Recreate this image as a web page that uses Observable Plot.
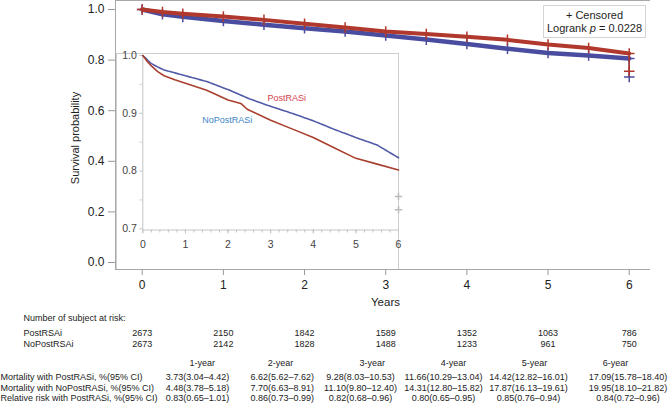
<!DOCTYPE html>
<html><head><meta charset="utf-8">
<script src="https://cdn.jsdelivr.net/npm/d3@7"></script>
<script src="https://cdn.jsdelivr.net/npm/@observablehq/plot@0.6"></script>
<style>
body{margin:0;background:#fff;font-family:"Liberation Sans",Arial,Helvetica,sans-serif;}
#wrap{position:relative;width:668px;height:404px;overflow:hidden;background:#fff;}
#main{position:absolute;left:0;top:0;}
#inset{position:absolute;left:116px;top:53px;border-top:1px solid #cfcfcf;border-right:1px solid #cfcfcf;border-left:1px solid #cfcfcf;background:#fff;}
#legend{position:absolute;left:543px;top:5px;width:103px;height:33px;box-sizing:border-box;border:1px solid #d4d4d4;background:#fff;text-align:center;font-size:11px;line-height:12.5px;color:#1e1e1e;padding-top:3px;}
</style></head>
<body>
<div id="wrap"><div id="main"></div><div id="inset"></div>
<div id="legend"><div>+ Censored</div><div>Logrank <i>p</i> = 0.0228</div></div></div>
<script>
// ---- data ----
const years = [0, 1, 2, 3, 4, 5, 6];
const yTicks = [0, 0.2, 0.4, 0.6, 0.8, 1.0];
const mainT = [0, 0.25, 0.5, 1, 1.5, 2, 2.5, 3, 3.5, 4, 4.5, 5, 5.5, 6];
const mainPost = [1.0, 0.990, 0.983, 0.972, 0.959, 0.944, 0.929, 0.913, 0.903, 0.892, 0.880, 0.862, 0.848, 0.826];
const mainNoPost = [1.0, 0.981, 0.971, 0.955, 0.940, 0.926, 0.913, 0.897, 0.881, 0.864, 0.845, 0.828, 0.818, 0.806];
const endDropPost = [0.826, 0.756];
const endDropNoPost = [0.806, 0.733];

const insetUpperT = [0, 0.1, 0.2, 0.35, 0.5, 0.75, 1, 1.5, 2, 2.5, 3, 3.5, 4, 4.5, 5, 5.5, 6];
const insetUpperS = [1.0, 0.993, 0.986, 0.980, 0.975, 0.970, 0.965, 0.955, 0.941, 0.925, 0.912, 0.900, 0.887, 0.872, 0.858, 0.845, 0.823];
const insetLowerT = [0, 0.1, 0.2, 0.35, 0.5, 0.75, 1, 1.5, 2, 2.3, 2.45, 3, 3.5, 4, 4.5, 5, 5.5, 6];
const insetLowerS = [1.0, 0.990, 0.982, 0.972, 0.965, 0.958, 0.952, 0.940, 0.923, 0.917, 0.907, 0.888, 0.873, 0.858, 0.840, 0.822, 0.812, 0.802];
const insetEndMarks = [0.756, 0.733];
const insetYTicks = [0.7, 0.8, 0.9, 1.0];
const insetYMinor = [0.75, 0.85, 0.95];
const insetXMinor = d3.range(0, 30).map(i => i / 5);
const insetLabels = ["PostRASi", "NoPostRASi"];
const insetLabelT = [3.38, 1.98];
const insetLabelS = [0.927, 0.8875];

const riskGroups = ["PostRSAi", "NoPostRSAi"];
const postRisk = [2673, 2150, 1842, 1589, 1352, 1063, 786];
const noPostRisk = [2673, 2142, 1828, 1488, 1233, 961, 750];

const mortHeaders = ["1-year", "2-year", "3-year", "4-year", "5-year", "6-year"];
const mortRowLabels = ["Mortality with PostRASi, %(95% CI)", "Mortality with NoPostRASi, %(95% CI)", "Relative risk with PostRASi, %(95% CI)"];
const mortPost = ["3.73(3.04–4.42)", "6.62(5.62–7.62)", "9.28(8.03–10.53)", "11.66(10.29–13.04)", "14.42(12.82–16.01)", "17.09(15.78–18.40)"];
const mortNoPost = ["4.48(3.78–5.18)", "7.70(6.63–8.91)", "11.10(9.80–12.40)", "14.31(12.80–15.82)", "17.87(16.13–19.61)", "19.95(18.10–21.82)"];
const relRisk = ["0.83(0.65–1.01)", "0.86(0.73–0.99)", "0.82(0.68–0.96)", "0.80(0.65–0.95)", "0.85(0.76–0.94)", "0.84(0.72–0.96)"];

// ---- layout / style ----
const FONT = "Liberation Sans, Arial, Helvetica, sans-serif";
const RED = "#b0382c", BLUE = "#4a4d9f";
const IRED = "#a9402f", IBLUE = "#4f5aa6";
const xDomain = [-0.329, 6.262], yDomain = [-0.0277, 1.0356];
const ML = 115, FB = 269;
const TF = 9;
const hdrX = [201.7, 280, 371.7, 453, 534, 615];
const valX = [197, 281.7, 360, 443, 528, 627.5];

const postData = mainT.map((t, i) => ({t, s: mainPost[i]}));
const noPostData = mainT.map((t, i) => ({t, s: mainNoPost[i]}));
const dropData = [
  {t: 6, s1: endDropNoPost[0], s2: endDropNoPost[1], c: BLUE},
  {t: 6, s1: endDropPost[0], s2: endDropPost[1], c: RED}
];

const tableMarks = [];
mortHeaders.forEach((h, i) => {
  tableMarks.push(Plot.text([h], {text: d => d, frameAnchor: "bottom-left", textAnchor: "middle", lineAnchor: "middle", dx: hdrX[i] - ML, dy: 362.7 - FB, fontSize: TF, fill: "#222"}));
  tableMarks.push(Plot.text([[mortPost[i], mortNoPost[i], relRisk[i]].join("\n")], {text: d => d, frameAnchor: "bottom-left", textAnchor: "middle", lineAnchor: "middle", lineHeight: 10.67 / TF, dx: valX[i] - ML, dy: 386.8 - FB, fontSize: TF, fill: "#222"}));
});

const main = Plot.plot({
  width: 668, height: 404,
  marginLeft: ML, marginRight: 18, marginTop: 0, marginBottom: 404 - FB,
  x: {domain: xDomain}, y: {domain: yDomain},
  style: {fontFamily: FONT, fontSize: "12px", color: "#222", background: "white", overflow: "visible"},
  marks: [
    Plot.ruleX([xDomain[0]], {stroke: "#a8a8a8"}),
    Plot.ruleY([yDomain[0], yDomain[1]], {stroke: "#a8a8a8"}),
    Plot.axisY({ticks: yTicks, tickFormat: d3.format(".1f"), tickSize: 7, tickPadding: 4, stroke: "#999", fill: "#222", label: null}),
    Plot.axisX({ticks: years, tickFormat: d3.format("d"), tickSize: 6, tickPadding: 5, stroke: "#999", fill: "#222", label: null}),
    Plot.line(noPostData, {x: "t", y: "s", stroke: BLUE, strokeWidth: 4.5}),
    Plot.dot(noPostData, {x: "t", y: "s", symbol: "plus", r: 3.5, stroke: BLUE, strokeWidth: 1.5}),
    Plot.line(postData, {x: "t", y: "s", stroke: RED, strokeWidth: 4}),
    Plot.dot(postData, {x: "t", y: "s", symbol: "plus", r: 3.5, stroke: RED, strokeWidth: 1.5}),
    Plot.link(dropData, {x1: "t", x2: "t", y1: "s1", y2: "s2", stroke: "c", strokeWidth: 1.5}),
    Plot.dot(dropData, {x: "t", y: "s2", symbol: "plus", r: 3.5, stroke: "c", strokeWidth: 1.5}),
    Plot.text(["Survival probability"], {text: d => d, frameAnchor: "left", textAnchor: "middle", lineAnchor: "middle", rotate: -90, dx: -40, dy: 3, fontSize: 11, fill: "#222"}),
    Plot.text(["Years"], {text: d => d, frameAnchor: "bottom", textAnchor: "middle", lineAnchor: "middle", dx: 2.5, dy: 32.7, fontSize: 11.5, fill: "#222"}),
    Plot.text(["Number of subject at risk:"], {text: d => d, frameAnchor: "bottom-left", textAnchor: "start", lineAnchor: "middle", dx: 23 - ML, dy: 318 - FB, fontSize: TF, fill: "#222"}),
    Plot.text([riskGroups.join("\n")], {text: d => d, frameAnchor: "bottom-left", textAnchor: "start", lineAnchor: "middle", lineHeight: 11 / TF, dx: 23 - ML, dy: 337.2 - FB, fontSize: TF, fill: "#222"}),
    Plot.text(years, {x: d => d, text: (d, i) => postRisk[i] + "\n" + noPostRisk[i], frameAnchor: "bottom", textAnchor: "middle", lineAnchor: "middle", lineHeight: 11 / TF, dy: 337.2 - FB, fontSize: TF, fill: "#222"}),
    Plot.text([mortRowLabels.join("\n")], {text: d => d, frameAnchor: "bottom-left", textAnchor: "start", lineAnchor: "middle", lineHeight: 10.67 / TF, dx: 0 - ML, dy: 386.8 - FB, fontSize: TF, fill: "#222"}),
    ...tableMarks
  ]
});
document.getElementById("main").appendChild(main);

// ---- inset ----
const upperData = insetUpperT.map((t, i) => ({t, s: insetUpperS[i]}));
const lowerData = insetLowerT.map((t, i) => ({t, s: insetLowerS[i]}));
const insetYDomain = [0.698, 1.0];
const inset = Plot.plot({
  width: 281, height: 215,
  marginLeft: 25.3, marginRight: 0, marginTop: 1, marginBottom: 39.5,
  x: {domain: [0, 6]}, y: {domain: insetYDomain},
  style: {fontFamily: FONT, fontSize: "10.5px", color: "#444", background: "transparent", overflow: "visible"},
  marks: [
    Plot.ruleX([0], {stroke: "#c4c4c4"}),
    Plot.ruleY([insetYDomain[0]], {stroke: "#c4c4c4"}),
    Plot.axisY({ticks: insetYTicks, tickFormat: d3.format(".1f"), tickSize: 3, tickPadding: 3, stroke: "#c4c4c4", fill: "#444", label: null}),
    Plot.axisY({ticks: insetYMinor, tickFormat: () => "", tickSize: 3, stroke: "#d4d4d4", label: null}),
    Plot.axisX({ticks: insetXMinor, tickFormat: () => "", tickSize: 3, stroke: "#c4c4c4", label: null}),
    Plot.axisX({ticks: years, tickFormat: d3.format("d"), tickSize: 4, tickPadding: 7, stroke: "#c4c4c4", fill: "#444", label: null}),
    Plot.line(upperData, {x: "t", y: "s", stroke: IBLUE, strokeWidth: 1.6, strokeDasharray: "5,1.2"}),
    Plot.line(lowerData, {x: "t", y: "s", stroke: IRED, strokeWidth: 1.6}),
    Plot.dot(insetEndMarks, {x: () => 6, y: d => d, symbol: "plus", r: 2.5, stroke: "#bbb"}),
    Plot.text(insetLabels, {x: (d, i) => insetLabelT[i], y: (d, i) => insetLabelS[i], text: d => d, fill: (d, i) => i === 0 ? "#d4434f" : "#3d85c6", fontSize: 9})
  ]
});
document.getElementById("inset").appendChild(inset);
</script>
</body></html>
